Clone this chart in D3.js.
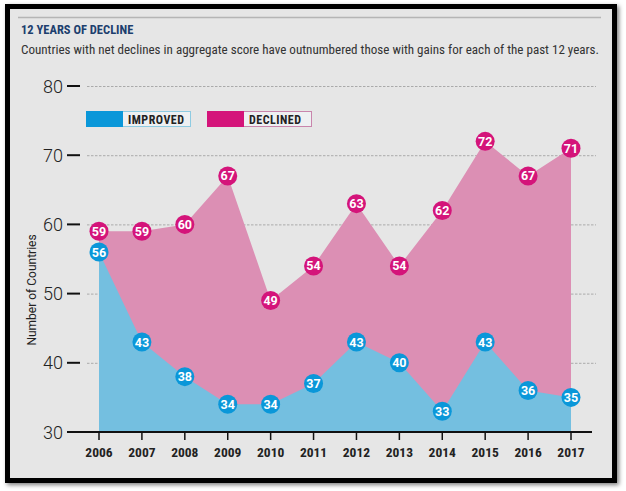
<!DOCTYPE html>
<html><head><meta charset="utf-8">
<script src="https://cdn.jsdelivr.net/npm/d3@7"></script>
<style>body{margin:0;background:#fff;} svg{display:block;}</style>
</head><body>
<script>
const years = [2006,2007,2008,2009,2010,2011,2012,2013,2014,2015,2016,2017];
const improved = [56,43,38,34,34,37,43,40,33,43,36,35];
const declined = [59,59,60,67,49,54,63,54,62,72,67,71];
const yTicks = [30,40,50,60,70,80];
const title = "12 YEARS OF DECLINE";
const subtitle = "Countries with net declines in aggregate score have outnumbered those with gains for each of the past 12 years.";
const yLabel = "Number of Countries";
const legendItems = [{name:"IMPROVED", color:"#0a97d9", border:"#8ecbe2"},{name:"DECLINED", color:"#d4147a", border:"#c985ac"}];

const W=626,H=491;
const svg=d3.select("body").append("svg").attr("width",W).attr("height",H);
const defs=svg.append("defs");
const f=defs.append("filter").attr("id","sh").attr("x","-5%").attr("y","-5%").attr("width","110%").attr("height","110%");
f.append("feDropShadow").attr("dx",2).attr("dy",2).attr("stdDeviation",2).attr("flood-color","#000").attr("flood-opacity",0.5);

// frame
svg.append("rect").attr("x",7.5).attr("y",6.5).attr("width",607).attr("height",474)
  .attr("fill","#e6e6e6").attr("stroke","#000").attr("stroke-width",5).attr("filter","url(#sh)");
svg.append("line").attr("x1",18).attr("x2",601).attr("y1",17.5).attr("y2",17.5).attr("stroke","#b5b5b5").attr("stroke-width",1.5);

const cond = "'Liberation Sans Narrow','Roboto Condensed','Roboto',sans-serif";
svg.append("text").attr("x",21).attr("y",34).text(title)
  .attr("font-family",cond).attr("font-weight","bold").attr("font-size",12.5).attr("fill","#1d3f6e");
svg.append("text").attr("x",21).attr("y",54).text(subtitle)
  .attr("font-family",cond).attr("font-size",13.5).attr("fill","#333")
  .attr("textLength",578).attr("lengthAdjust","spacingAndGlyphs");

const x=d3.scalePoint().domain(years).range([99,571]);
const y=d3.scaleLinear().domain([30,80]).range([432,86]);

// gridlines
svg.append("g").selectAll("line").data(yTicks.filter(d=>d>30)).join("line")
  .attr("x1",87).attr("x2",596).attr("y1",d=>y(d)+0.5).attr("y2",d=>y(d)+0.5)
  .attr("stroke","#aaaaaa").attr("stroke-width",1).attr("stroke-dasharray","2.5,1.5");

// areas
const area = vals => d3.area().x((d,i)=>x(years[i])).y0(y(30)).y1(d=>y(d))(vals);
svg.append("path").attr("d",area(declined)).attr("fill","#dc8fb4");
svg.append("path").attr("d",area(improved)).attr("fill","#74bfe0");

// y axis ticks
const ya=svg.append("g");
ya.selectAll("line").data(yTicks).join("line")
  .attr("x1",67).attr("x2",80).attr("y1",d=>y(d)).attr("y2",d=>y(d)).attr("stroke","#111").attr("stroke-width",2);
ya.selectAll("text").data(yTicks).join("text")
  .attr("x",63).attr("y",d=>y(d)+6.5).attr("text-anchor","end").text(d=>d)
  .attr("font-family","Roboto,sans-serif").attr("font-weight",300).attr("font-size",18).attr("fill","#222");
svg.append("text").attr("transform","translate(36,290) rotate(-90)").attr("text-anchor","middle")
  .text(yLabel).attr("font-family","Roboto,sans-serif").attr("font-size",12).attr("fill","#222");

// x axis
svg.append("line").attr("x1",67).attr("x2",592).attr("y1",y(30)).attr("y2",y(30)).attr("stroke","#111").attr("stroke-width",2);
const xa=svg.append("g");
xa.selectAll("line").data(years).join("line")
  .attr("x1",d=>x(d)).attr("x2",d=>x(d)).attr("y1",y(30)).attr("y2",y(30)+8).attr("stroke","#111").attr("stroke-width",1.5);
xa.selectAll("text").data(years).join("text")
  .attr("x",d=>x(d)).attr("y",457).attr("text-anchor","middle").text(d=>d)
  .attr("font-family",cond).attr("font-weight","bold").attr("font-size",13.5).attr("fill","#222");

// markers
function markers(vals,color){
  const g=svg.append("g");
  g.selectAll("circle").data(vals).join("circle")
    .attr("cx",(d,i)=>x(years[i])).attr("cy",d=>y(d)).attr("r",9.5).attr("fill",color);
  g.selectAll("text").data(vals).join("text")
    .attr("x",(d,i)=>x(years[i])).attr("y",d=>y(d)+4.5).attr("text-anchor","middle").text(d=>d)
    .attr("font-family","Roboto,sans-serif").attr("font-weight","bold").attr("font-size",12.5).attr("fill","#fff");
}
markers(declined,legendItems[1].color);
markers(improved,legendItems[0].color);

// legend
const lg=svg.append("g").selectAll("g").data(legendItems).join("g")
  .attr("transform",(d,i)=>`translate(${86+i*121},111)`);
lg.append("rect").attr("x",0.5).attr("y",0.5).attr("width",104).attr("height",15).attr("fill","#eef0f2").attr("stroke",d=>d.border);
lg.append("rect").attr("x",0).attr("y",0).attr("width",37).attr("height",16).attr("fill",d=>d.color);
lg.append("text").attr("x",42).attr("y",12.5).text(d=>d.name)
  .attr("font-family",cond).attr("font-weight","bold").attr("font-size",12).attr("fill","#222").attr("letter-spacing",0.5);
</script>
</body></html>
